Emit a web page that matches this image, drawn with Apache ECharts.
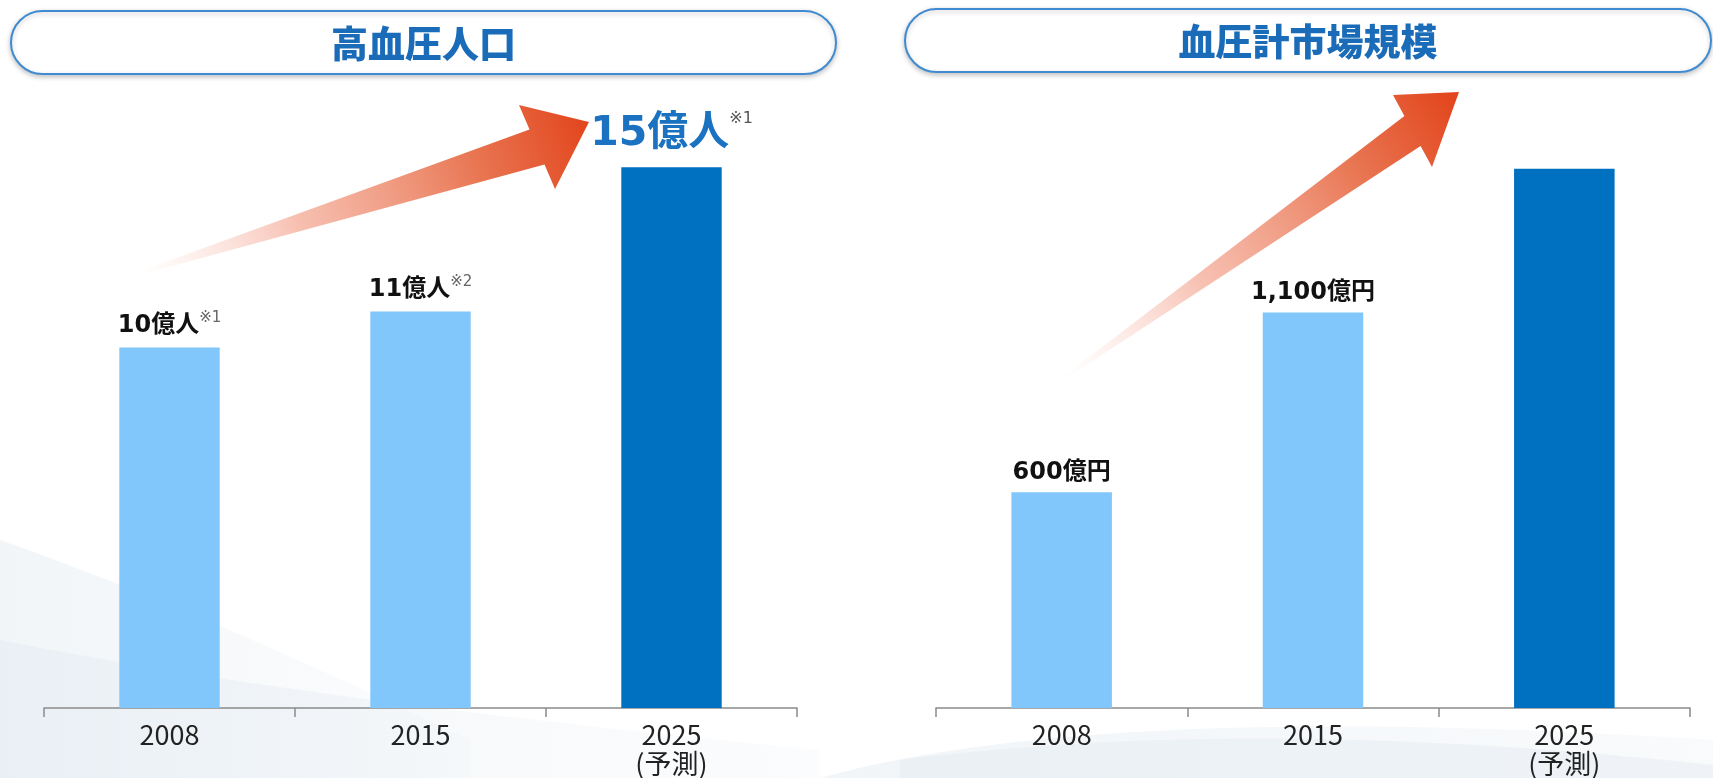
<!DOCTYPE html>
<html lang="ja">
<head>
<meta charset="utf-8">
<title>高血圧人口と血圧計市場規模</title>
<script src="https://cdn.jsdelivr.net/npm/echarts@6/dist/echarts.min.js"></script>
<style>
  html, body { margin: 0; padding: 0; background: #ffffff; }
  #chart { width: 1713px; height: 778px; }
</style>
</head>
<body>
<div id="chart"></div>
<script>
// --- data ---------------------------------------------------------------
const years = ['2008', '2015', '2025'];
const yearLabels = ['2008', '2015', '2025\n(予測)'];
const forecastFlags = [false, false, true];

// hypertensive population (億人)
const populationValues = [10, 11, 15];
const populationNotes = ['※1', '※2', '※1'];

// blood pressure monitor market (億円); the forecast bar carries no label
const marketValues = [600, 1100, 1500];
const marketShowLabel = [true, true, false];

const panelTitles = ['高血圧人口', '血圧計市場規模'];

// --- styling ------------------------------------------------------------
const LIGHT = '#82c7fb';
const DARK = '#0070c0';
const LATIN = '"DejaVu Sans", "Noto Sans CJK JP", sans-serif';
const CJK = '"Noto Sans CJK JP", "DejaVu Sans", sans-serif';

const chart = echarts.init(document.getElementById('chart'), null, { renderer: 'canvas' });

function barColor(i) { return forecastFlags[i] ? DARK : LIGHT; }

const populationData = populationValues.map((v, i) => {
  const big = forecastFlags[i];
  return {
    value: v,
    itemStyle: { color: barColor(i) },
    label: {
      show: true,
      position: 'top',
      distance: big ? 10 : 7,
      formatter: '{v|' + v + '億人}{n|' + populationNotes[i] + '}',
      rich: big ? {
        v: { fontFamily: LATIN, fontSize: 41, fontWeight: 'bold', color: '#1a72c0', lineHeight: 46 },
        n: { fontFamily: LATIN, fontSize: 16, color: '#555', verticalAlign: 'top', padding: [0, 0, 24, 0], lineHeight: 46 }
      } : {
        v: { fontFamily: LATIN, fontSize: 24, fontWeight: 'bold', color: '#111', lineHeight: 30 },
        n: { fontFamily: LATIN, fontSize: 15, color: '#666', verticalAlign: 'top', padding: [0, 0, 12, 0], lineHeight: 30 }
      }
    }
  };
});

const marketData = marketValues.map((v, i) => ({
  value: v,
  itemStyle: { color: barColor(i) },
  label: {
    show: marketShowLabel[i],
    position: 'top',
    distance: 8,
    formatter: v.toLocaleString('en-US') + '億円',
    fontFamily: LATIN,
    fontSize: 24,
    fontWeight: 'bold',
    color: '#111'
  }
}));

function categoryAxis(gridIndex) {
  return {
    type: 'category',
    gridIndex: gridIndex,
    data: yearLabels,
    boundaryGap: true,
    axisLine: { show: true, lineStyle: { color: '#8a8a8a', width: 1.5 } },
    axisTick: { show: true, length: 9, lineStyle: { color: '#8a8a8a', width: 1.5 } },
    axisLabel: {
      margin: 12,
      fontFamily: CJK,
      fontSize: 27,
      lineHeight: 29,
      color: '#222'
    }
  };
}

function valueAxis(gridIndex, max) {
  return {
    type: 'value',
    gridIndex: gridIndex,
    min: 0,
    max: max,
    show: false,
    splitLine: { show: false }
  };
}

// tapered arrow polygon: tail point, two shaft corners at the head, head corners and tip
function arrowPoints(tail, upper, tip, lower, half) {
  const mx = (upper[0] + lower[0]) / 2, my = (upper[1] + lower[1]) / 2;
  const dx = lower[0] - upper[0], dy = lower[1] - upper[1];
  const len = Math.hypot(dx, dy);
  const ux = dx / len, uy = dy / len;
  const su = [mx - ux * half, my - uy * half];
  const sl = [mx + ux * half, my + uy * half];
  return [
    [tail[0] - ux * 1.5, tail[1] - uy * 1.5],
    su, upper, tip, lower, sl,
    [tail[0] + ux * 1.5, tail[1] + uy * 1.5]
  ];
}

function arrowFill() {
  return {
    type: 'linear', x: 0, y: 1, x2: 1, y2: 0,
    colorStops: [
      { offset: 0, color: 'rgba(250,215,205,0)' },
      { offset: 0.35, color: 'rgba(244,170,150,0.75)' },
      { offset: 0.75, color: '#e8734f' },
      { offset: 1, color: '#e2431a' }
    ]
  };
}

function pill(x, y, w, h, text) {
  return [
    {
      type: 'rect',
      shape: { x: x, y: y, width: w, height: h, r: h / 2 },
      style: {
        fill: '#ffffff',
        stroke: '#3f8ad0',
        lineWidth: 2,
        shadowBlur: 5,
        shadowOffsetY: 2,
        shadowColor: 'rgba(0,0,0,0.22)'
      },
      z: 10
    },
    {
      type: 'text',
      x: x + w / 2,
      y: y + h / 2 + 1,
      style: {
        text: text,
        font: '900 37px ' + CJK,
        fill: '#1a6cb8',
        align: 'center',
        verticalAlign: 'middle'
      },
      z: 11
    }
  ];
}

// sampled quadratic curve used to outline the soft background bands
function curve(p0, c, p1, n) {
  const pts = [];
  for (let k = 0; k <= n; k++) {
    const t = k / n, s = 1 - t;
    pts.push([s * s * p0[0] + 2 * s * t * c[0] + t * t * p1[0],
              s * s * p0[1] + 2 * s * t * c[1] + t * t * p1[1]]);
  }
  return pts;
}

function band(top, bottom, fill) {
  return {
    type: 'polygon',
    shape: { points: top.concat(bottom.slice().reverse()) },
    style: { fill: fill },
    z: -10, silent: true
  };
}

function fade(c1, c2) {
  return { type: 'linear', x: 0, y: 0, x2: 1, y2: 0,
    colorStops: [{ offset: 0, color: c1 }, { offset: 1, color: c2 }] };
}

const backdrop = [
  band(curve([0, 540], [200, 610], [470, 740], 30), curve([0, 778], [200, 778], [470, 778], 2),
       fade('rgba(226,234,241,0.45)', 'rgba(226,234,241,0.1)')),
  band(curve([0, 640], [300, 700], [820, 750], 30), curve([0, 778], [400, 778], [820, 778], 2),
       fade('rgba(218,228,237,0.35)', 'rgba(218,228,237,0.1)')),
  band(curve([820, 778], [1100, 700], [1713, 740], 30), curve([820, 778], [1200, 778], [1713, 778], 2),
       fade('rgba(222,231,239,0.4)', 'rgba(222,231,239,0.2)')),
  band(curve([900, 760], [1250, 715], [1713, 765], 30), curve([900, 778], [1250, 778], [1713, 778], 2),
       'rgba(210,222,233,0.25)')
];

const arrows = [
  {
    type: 'polygon',
    shape: { points: arrowPoints([137, 274], [519, 105], [589, 122], [555, 189], 19) },
    style: { fill: arrowFill() },
    z: 5
  },
  {
    type: 'polygon',
    shape: { points: arrowPoints([1064, 378], [1393, 95], [1459, 92], [1432, 167], 17) },
    style: { fill: arrowFill() },
    z: 5
  }
];

const option = {
  backgroundColor: '#ffffff',
  animation: false,
  grid: [
    { left: 44, width: 753, top: 59, bottom: 70 },
    { left: 936, width: 754, top: 61, bottom: 68 }
  ],
  xAxis: [categoryAxis(0), categoryAxis(1)],
  yAxis: [valueAxis(0, 18), valueAxis(1, 1800)],
  series: [
    {
      name: panelTitles[0],
      type: 'bar',
      xAxisIndex: 0,
      yAxisIndex: 0,
      barWidth: '40%',
      data: populationData,
      z: 3
    },
    {
      name: panelTitles[1],
      type: 'bar',
      xAxisIndex: 1,
      yAxisIndex: 1,
      barWidth: '40%',
      data: marketData,
      z: 3
    }
  ],
  graphic: [].concat(
    backdrop,
    arrows,
    pill(11, 11, 825, 63, panelTitles[0]),
    pill(905, 9, 806, 63, panelTitles[1])
  )
};

chart.setOption(option);
</script>
</body>
</html>
